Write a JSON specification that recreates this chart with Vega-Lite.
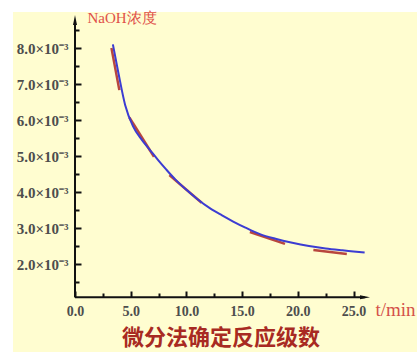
{
  "$schema": "https://vega.github.io/schema/vega-lite/v6.json",
  "width": 404,
  "height": 340,
  "autosize": "none",
  "padding": {"left": 13, "top": 12, "right": 0, "bottom": 0},
  "background": "white",
  "view": {"fill": "#FFFDD0", "stroke": null},
  "title": {
    "text": "微分法确定反应级数",
    "orient": "top",
    "anchor": "middle",
    "frame": "group",
    "font": "Noto Sans CJK SC",
    "fontSize": 22,
    "fontWeight": "bold",
    "color": "#A82A22",
    "baseline": "middle",
    "offset": 0,
    "dx": 6,
    "dy": 350
  },
  "datasets": {
    "curve": [
      {"t": 3.4, "c": 8.1},
      {"t": 3.9, "c": 7.3},
      {"t": 4.5, "c": 6.42},
      {"t": 5.2, "c": 5.83},
      {"t": 6.0, "c": 5.45},
      {"t": 6.7, "c": 5.18},
      {"t": 7.5, "c": 4.87},
      {"t": 8.2, "c": 4.62},
      {"t": 9.0, "c": 4.35},
      {"t": 10.0, "c": 4.06},
      {"t": 11.0, "c": 3.8},
      {"t": 12.1, "c": 3.55},
      {"t": 13.2, "c": 3.35},
      {"t": 14.2, "c": 3.18},
      {"t": 15.3, "c": 3.01},
      {"t": 16.6, "c": 2.83},
      {"t": 18.0, "c": 2.7},
      {"t": 19.5, "c": 2.59},
      {"t": 21.0, "c": 2.5},
      {"t": 22.5, "c": 2.43},
      {"t": 24.0, "c": 2.38},
      {"t": 25.0, "c": 2.35},
      {"t": 26.0, "c": 2.32}
    ],
    "tangents": [
      {"t": 3.27, "c": 8.0, "t2": 3.98, "c2": 6.83},
      {"t": 4.88, "c": 6.07, "t2": 7.09, "c2": 4.98},
      {"t": 8.47, "c": 4.47, "t2": 11.37, "c2": 3.7},
      {"t": 15.7, "c": 2.89, "t2": 18.85, "c2": 2.56},
      {"t": 21.4, "c": 2.39, "t2": 24.4, "c2": 2.28}
    ],
    "axislines": [
      {"t": 0, "c": 1.08, "t2": 0, "c2": 8.7},
      {"t": 0, "c": 1.08, "t2": 26.0, "c2": 1.08}
    ],
    "arrows": [
      {"t": 0, "c": 8.78, "dir": "up"},
      {"t": 26.03, "c": 1.08, "dir": "right"}
    ]
  },
  "encoding": {
    "x": {
      "field": "t", "type": "quantitative", "title": "t/min",
      "scale": {"domain": [-5.566, 30.7], "nice": false, "zero": false},
      "axis": {
        "orient": "bottom",
        "offset": -55,
        "values": [0, 2.5, 5, 7.5, 10, 12.5, 15, 17.5, 20, 22.5, 25],
        "domain": false,
        "grid": false,
        "tickColor": "#111111",
        "tickWidth": 2,
        "tickSize": {"condition": {"test": "datum.value % 5 === 0", "value": -6}, "value": -4},
        "labelExpr": "datum.value % 5 === 0 ? format(datum.value, '.1f') : ''",
        "labelFont": "Liberation Serif",
        "labelFontWeight": "bold",
        "labelFontSize": 14,
        "labelColor": "#4D4D4D",
        "labelPadding": 13,
        "labelFlush": false,
        "labelOverlap": false,
        "titleFont": "Liberation Serif",
        "titleFontWeight": "normal",
        "titleFontSize": 19,
        "titleColor": "#D4504A",
        "titleAlign": "left",
        "titleBaseline": "alphabetic",
        "titleAngle": 0,
        "titleX": 362,
        "titleY": 18
      }
    },
    "y": {
      "field": "c", "type": "quantitative", "title": "NaOH浓度",
      "scale": {"domain": [-0.444, 9.0], "nice": false, "zero": false},
      "axis": {
        "orient": "left",
        "offset": -62,
        "values": [1.5, 2, 2.5, 3, 3.5, 4, 4.5, 5, 5.5, 6, 6.5, 7, 7.5, 8, 8.5],
        "domain": false,
        "grid": false,
        "tickColor": "#111111",
        "tickWidth": 2,
        "tickSize": {"condition": {"test": "datum.value % 1 === 0", "value": -6}, "value": -4},
        "labelExpr": "datum.value % 1 === 0 ? format(datum.value, '.1f') + '×10⁻³' : ''",
        "labelFont": "Liberation Serif",
        "labelFontWeight": "bold",
        "labelFontSize": 15,
        "labelColor": "#4D4D4D",
        "labelPadding": 13,
        "labelFlush": false,
        "labelOverlap": false,
        "titleFont": "Liberation Serif",
        "titleFontWeight": "normal",
        "titleFontSize": 15,
        "titleColor": "#E0504A",
        "titleAlign": "left",
        "titleBaseline": "alphabetic",
        "titleAngle": 0,
        "titleX": 12,
        "titleY": 10
      }
    }
  },
  "layer": [
    {
      "data": {"name": "tangents"},
      "mark": {"type": "rule", "color": "#B8463E", "strokeWidth": 2.5},
      "encoding": {
        "x2": {"field": "t2"},
        "y2": {"field": "c2"}
      }
    },
    {
      "data": {"name": "curve"},
      "mark": {"type": "line", "color": "#3C3CD2", "strokeWidth": 2, "interpolate": "monotone"}
    },
    {
      "data": {"name": "axislines"},
      "mark": {"type": "rule", "color": "#111111", "strokeWidth": 2},
      "encoding": {
        "x2": {"field": "t2"},
        "y2": {"field": "c2"}
      }
    },
    {
      "data": {"name": "arrows"},
      "mark": {"type": "point", "size": 100, "filled": true, "color": "#111111", "opacity": 1},
      "encoding": {
        "shape": {
          "field": "dir", "type": "nominal", "legend": null,
          "scale": {"domain": ["up", "right"], "range": ["M0,-1L0.4,1L-0.4,1Z", "M1,0L-1,0.4L-1,-0.4Z"]}
        }
      }
    }
  ]
}
